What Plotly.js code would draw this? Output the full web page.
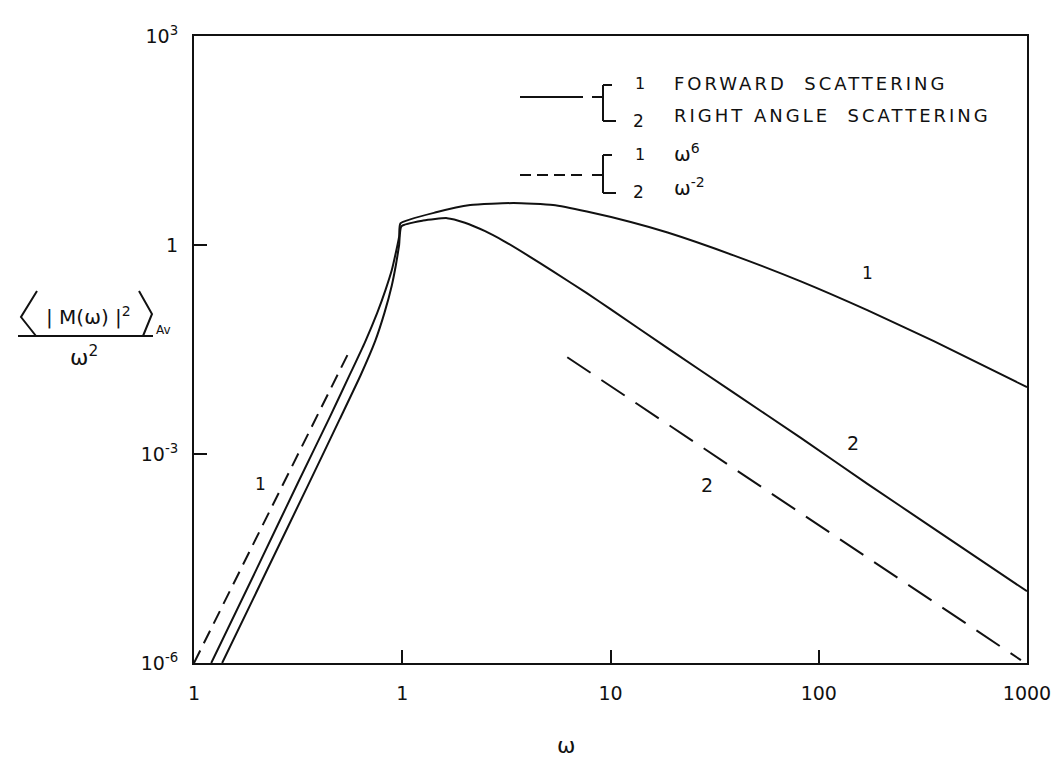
<!DOCTYPE html>
<html><head><meta charset="utf-8">
<script src="https://cdn.plot.ly/plotly-3.0.1.min.js"></script>
<style>html,body{margin:0;padding:0;background:#fff}#chart{width:1053px;height:759px}</style>
</head><body><div id="chart"></div>
<script>
// ---- data ----
const omegaForward = [0.121, 0.2, 0.316, 0.447, 0.562, 0.661, 0.759, 0.832, 0.891, 0.933, 0.966, 0.98, 1.47, 2.12, 3.42, 5.3, 7.7, 12.5, 18.8, 39, 82, 172, 357, 1000];
const forward      = [1.0e-6, 2.24e-5, 3.9e-4, 3.3e-3, 0.0141, 0.0398, 0.107, 0.229, 0.437, 0.794, 1.32, 2.04, 2.97, 3.75, 4.0, 3.75, 3.02, 2.14, 1.51, 0.71, 0.30, 0.115, 0.0417, 0.0091];
const omegaRight   = [0.1365, 0.224, 0.355, 0.501, 0.631, 0.741, 0.822, 0.891, 0.933, 0.966, 0.991, 1.26, 1.64, 2.0, 2.5, 3.06, 4.0, 5.3, 7.7, 10, 18.8, 39, 82, 172, 357, 1000];
const rightAngle   = [1.0e-6, 2.14e-5, 3.7e-4, 3.16e-3, 0.0135, 0.0417, 0.107, 0.263, 0.525, 1.0, 1.86, 2.24, 2.43, 2.09, 1.58, 1.15, 0.71, 0.417, 0.204, 0.120, 0.0331, 7.6e-3, 1.70e-3, 3.7e-4, 8.5e-5, 1.07e-5];
const omegaW6  = [0.1, 0.56];
const w6       = [1e-6, 0.0308];
const omegaWm2 = [6.2, 935];
const wm2      = [0.0245, 1.1e-6];
const xTickVals = [0.1, 1, 10, 100, 1000];
const xTickText = ['1', '1', '10', '100', '1000'];
const yTickVals = [1e-6, 1e-3, 1, 1e3];
const yTickText = ['10<sup>-6</sup>', '10<sup>-3</sup>', '1', '10<sup>3</sup>'];
const legendSolid  = ['FORWARD  SCATTERING', 'RIGHT ANGLE  SCATTERING'];
const legendDashed = ['ω<sup>6</sup>', 'ω<sup>-2</sup>'];
const curveLabels  = ['1', '2', '2', '1'];

// ---- layout helpers (pixel -> paper) ----
const L = 194, R = 1027, T = 36, B = 663;
const px = x => (x - L) / (R - L);
const py = y => (B - y) / (B - T);
const INK = '#111111';
const FONT = 'DejaVu Sans';

const traces = [
  {x: omegaForward, y: forward, mode: 'lines', line: {color: INK, width: 2, shape: 'spline', smoothing: 0.5}},
  {x: omegaRight, y: rightAngle, mode: 'lines', line: {color: INK, width: 2, shape: 'spline', smoothing: 0.5}},
  {x: omegaW6, y: w6, mode: 'lines', line: {color: INK, width: 2, dash: '14px,8px'}},
  {x: omegaWm2, y: wm2, mode: 'lines', line: {color: INK, width: 2, dash: '28px,13px'}}
];

function ann(text, x, y, size, extra) {
  return Object.assign({text: text, xref: 'paper', yref: 'paper', x: px(x), y: py(y),
    showarrow: false, font: {family: FONT, size: size, color: INK}, xanchor: 'center', yanchor: 'middle'}, extra || {});
}
function seg(x0, y0, x1, y1, dash) {
  return {type: 'line', xref: 'paper', yref: 'paper', x0: px(x0), y0: py(y0), x1: px(x1), y1: py(y1),
    line: {color: INK, width: 2, dash: dash || 'solid'}};
}
function path(pts) {
  let d = 'M ' + pts.map(p => px(p[0]) + ',' + py(p[1])).join(' L ');
  return {type: 'path', xref: 'paper', yref: 'paper', path: d, line: {color: INK, width: 2}};
}

const sp = s => '<span style="letter-spacing:3px">' + s + '</span>';

const annotations = [
  // legend
  ann('1', 640, 83, 16), ann('2', 638, 121, 17),
  ann(sp(legendSolid[0]), 672, 83, 18, {xanchor: 'left'}),
  ann(sp(legendSolid[1]), 672, 116, 18, {xanchor: 'left'}),
  ann('1', 640, 154, 16), ann('2', 638, 192, 17),
  ann(legendDashed[0], 672, 153, 20, {xanchor: 'left'}),
  ann(legendDashed[1], 672, 187, 20, {xanchor: 'left'}),
  // curve labels
  ann(curveLabels[0], 867, 273, 17),
  ann(curveLabels[1], 853, 443, 19),
  ann(curveLabels[2], 707, 485, 19),
  ann(curveLabels[3], 260, 484, 17),
  // axis titles
  ann('ω', 566, 745, 22),
  ann('| M(ω) |<sup>2</sup>', 88, 316, 20),
  ann('Av', 163, 330, 12),
  ann('ω<sup>2</sup>', 84, 356, 22)
];

const shapes = [
  // legend samples
  seg(520, 97, 583, 97),
  seg(520, 175, 583, 175, '11px,6px'),
  // brackets
  seg(592, 97, 603, 97), seg(603, 85, 603, 121), seg(603, 85, 612, 85), seg(603, 121, 616, 121),
  seg(592, 175, 603, 175), seg(603, 155, 603, 193), seg(603, 155, 612, 155), seg(603, 193, 616, 193),
  // y title fraction
  seg(18, 336, 153, 336),
  path([[37, 291], [21, 317], [36, 336]]),
  path([[139, 291], [152, 314], [143, 336]])
];

const axisCommon = {type: 'log', showgrid: false, zeroline: false, showline: true, mirror: true,
  linecolor: INK, linewidth: 2, ticks: 'inside', ticklen: 13, tickwidth: 2, tickcolor: INK,
  tickfont: {family: FONT, size: 19, color: INK}};

const layout = {
  width: 1053, height: 759,
  margin: {l: L, r: 1053 - R, t: T, b: 759 - B},
  paper_bgcolor: '#fff', plot_bgcolor: '#fff',
  showlegend: false,
  xaxis: Object.assign({}, axisCommon, {range: [-1, 3], tickmode: 'array', tickvals: xTickVals, ticktext: xTickText, ticklabelstandoff: 12}),
  yaxis: Object.assign({}, axisCommon, {range: [-6, 3], tickmode: 'array', tickvals: yTickVals, ticktext: yTickText, ticklabelstandoff: 10}),
  annotations: annotations,
  shapes: shapes
};

Plotly.newPlot('chart', traces, layout, {displayModeBar: false, staticPlot: true});
</script></body></html>
